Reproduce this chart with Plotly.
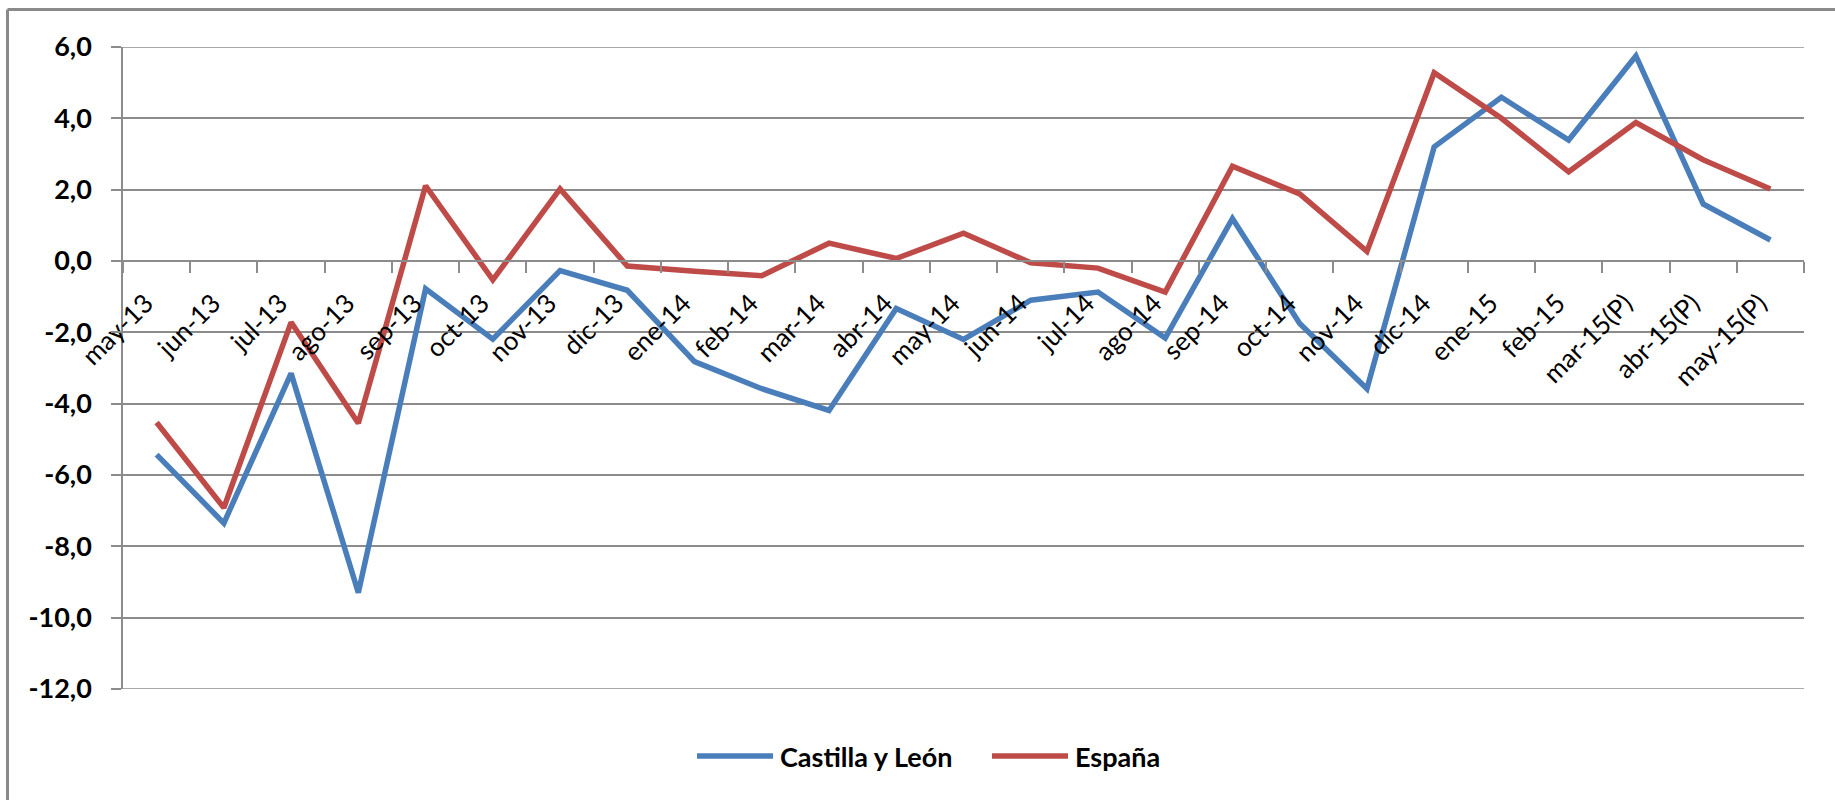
import plotly.graph_objects as go

months = ["may-13", "jun-13", "jul-13", "ago-13", "sep-13", "oct-13", "nov-13", "dic-13",
          "ene-14", "feb-14", "mar-14", "abr-14", "may-14", "jun-14", "jul-14", "ago-14",
          "sep-14", "oct-14", "nov-14", "dic-14", "ene-15", "feb-15", "mar-15(P)",
          "abr-15(P)", "may-15(P)"]

castilla_y_leon = [-5.43, -7.35, -3.15, -9.3, -0.78, -2.19, -0.27, -0.82, -2.82, -3.58,
                   -4.19, -1.33, -2.2, -1.1, -0.87, -2.16, 1.19, -1.75, -3.58, 3.2,
                   4.59, 3.39, 5.75, 1.6, 0.59]

espana = [-4.53, -6.92, -1.72, -4.55, 2.11, -0.53, 2.02, -0.14, -0.29, -0.41,
          0.5, 0.07, 0.78, -0.05, -0.2, -0.87, 2.66, 1.88, 0.27, 5.28,
          4.0, 2.5, 3.88, 2.84, 2.02]

y_ticks = [6, 4, 2, 0, -2, -4, -6, -8, -10, -12]
y_tick_labels = ["6,0", "4,0", "2,0", "0,0", "-2,0", "-4,0", "-6,0", "-8,0", "-10,0", "-12,0"]

series_names = ["Castilla y León", "España"]
series_colors = ["#4A7EBB", "#BE4B48"]

W, H = 1835, 800
L, R, T, B = 123, 31, 47, 111
PW, PH = W - L - R, H - T - B

YMIN, YMAX = -12, 6


def px_x(x):
    return (x - L) / PW


def px_y(y):
    return (H - B - y) / PH


fig = go.Figure()
for name, vals, col in zip(series_names, [castilla_y_leon, espana], series_colors):
    fig.add_trace(go.Scatter(
        x=months, y=vals, mode="lines", name=name,
        line=dict(color=col, width=5.5), showlegend=False,
        hoverinfo="skip",
    ))

grid_col = "#8C8C8C"

fig.update_layout(
    width=W, height=H,
    margin=dict(l=L, r=R, t=T, b=B, pad=0),
    paper_bgcolor="white", plot_bgcolor="white",
    font=dict(family="Lato", color="black"),
    xaxis=dict(
        type="category", range=[-0.5, len(months) - 0.5],
        anchor="free", position=(0 - YMIN) / (YMAX - YMIN),
        showline=True, linecolor=grid_col, linewidth=1.5,
        showgrid=False, zeroline=False,
        ticks="outside", ticklen=11, tickwidth=1.5, tickcolor=grid_col,
        tickson="boundaries",
        tickangle=-45, tickfont=dict(family="Lato", size=26, color="black"),
        ticklabelstandoff=16, ticklabelshift=-11,
    ),
    yaxis=dict(
        range=[YMIN, YMAX], tickvals=y_ticks, ticktext=y_tick_labels,
        showline=True, linecolor=grid_col, linewidth=1.5,
        showgrid=True, gridcolor=grid_col, gridwidth=1.5,
        zeroline=False,
        ticks="outside", ticklen=10, tickwidth=1.5, tickcolor=grid_col,
        tickfont=dict(family="Lato", size=27, color="black", weight="bold"),
        ticklabelstandoff=14,
    ),
)

# outer chart border: left and top edges (right and bottom lie outside the picture)
border = dict(color="#8A8A8A", width=3)
fig.add_shape(type="line", xref="paper", yref="paper",
              x0=px_x(7.5), x1=px_x(W + 20), y0=px_y(9.5), y1=px_y(9.5), line=border)
fig.add_shape(type="line", xref="paper", yref="paper",
              x0=px_x(7.5), x1=px_x(7.5), y0=px_y(9.5), y1=px_y(H + 20), line=border)

# top and bottom gridlines (range edges)
for v in [YMAX, YMIN]:
    fig.add_shape(type="line", xref="paper", yref="y", x0=0, x1=1, y0=v, y1=v,
                  line=dict(color=grid_col, width=1.5), layer="below")

# legend drawn with line samples and text
legend_y = px_y(756)
legend_items = [(697, 773, 780), (992, 1068, 1075)]
for (lx0, lx1, tx), name, col in zip(legend_items, series_names, series_colors):
    fig.add_shape(type="line", xref="paper", yref="paper",
                  x0=px_x(lx0), x1=px_x(lx1), y0=legend_y, y1=legend_y,
                  line=dict(color=col, width=5.5))
    fig.add_annotation(xref="paper", yref="paper", x=px_x(tx), y=legend_y,
                       text=name, showarrow=False, xanchor="left", yanchor="middle",
                       xshift=-2,
                       font=dict(family="Lato", size=27, color="black", weight="bold"))

fig.write_html(
    "out.html",
    config={"displayModeBar": False},
    post_script="document.body.style.margin='0';document.body.style.overflow='hidden';",
)
